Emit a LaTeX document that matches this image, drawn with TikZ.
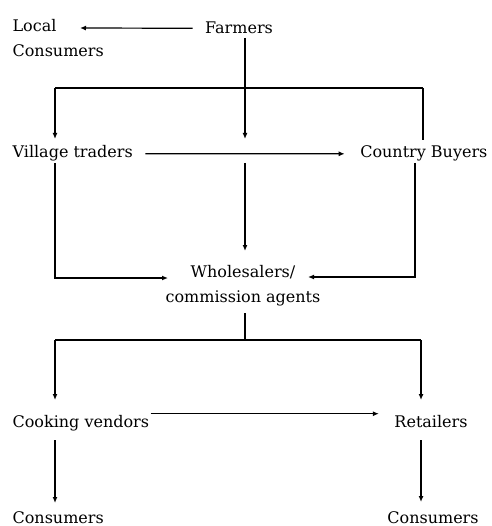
\documentclass[tikz,border=0pt]{standalone}
\usepackage{fontspec}
\setmainfont{DejaVu Serif}
\usetikzlibrary{arrows.meta}

\begin{document}
\begin{tikzpicture}[x=1pt,y=-1pt]
\tikzstyle{every path}=[line width=1.2pt]
\tikzstyle{every node}=[inner sep=0pt,font=\fontsize{16}{25}\selectfont]
\tikzstyle{flow}=[-{Latex[length=6pt,width=5pt]}]
\useasboundingbox (0,0) rectangle (491,526);

\begin{scope}
\node (local) [anchor=north west,align=left] at (12,19) {Local\\Consumers};
\node (farmers) [anchor=base] at (239,34) {Farmers};
\node (village) [anchor=base west] at (12,158) {Village traders};
\node (country) [anchor=base east] at (488,158) {Country Buyers};
\node (whole) [anchor=north,align=center] at (243,265) {Wholesalers/\\commission agents};
\node (cooking) [anchor=base west] at (12,427) {Cooking vendors};
\node (retail) [anchor=base] at (431,427) {Retailers};
\node (cons1) [anchor=base west] at (12,523) {Consumers};
\node (cons2) [anchor=base] at (433,523) {Consumers};

% junctions and free ends
\coordinate (lc) at (80,28);
\coordinate (f0) at (245,38);
\coordinate (f1) at (245,139);
\coordinate (t1) at (55,88);
\coordinate (t2) at (423,88);
\coordinate (v0) at (55,139);
\coordinate (c0) at (423,140);
\coordinate (v1) at (55,163);
\coordinate (v2) at (55,278);
\coordinate (w0) at (168,278);
\coordinate (m1) at (245,163);
\coordinate (m2) at (245,251);
\coordinate (c1) at (415,163);
\coordinate (c2) at (415,277);
\coordinate (w1) at (308,277);
\coordinate (b0) at (245,313);
\coordinate (b1) at (245,340);
\coordinate (b2) at (55,340);
\coordinate (b3) at (421,340);
\coordinate (k0) at (55,400);
\coordinate (r0) at (421,400);
\coordinate (k1) at (55,440);
\coordinate (k2) at (55,503);
\coordinate (r1) at (421,440);
\coordinate (r2) at (421,502);

\draw[flow] ([xshift=-12pt]farmers.west) -- (lc);
\draw[flow] (f0) -- (f1);
\draw (t2) -- (t1);
\draw[flow] (t1) -- (v0);
\draw (t2) -- (c0);
\draw[flow] ([xshift=12pt]village.east) -- ([xshift=-15pt]country.west);
\draw[flow] (v1) -- (v2) -- (w0);
\draw[flow] (m1) -- (m2);
\draw[flow] (c1) -- (c2) -- (w1);
\draw (b0) -- (b1);
\draw (b2) -- (b3);
\draw[flow] (b2) -- (k0);
\draw[flow] (b3) -- (r0);
\draw[flow] ([xshift=1pt,yshift=9pt]cooking.east) -- ([xshift=-15pt,yshift=9pt]cooking.east -| retail.west);
\draw[flow] (k1) -- (k2);
\draw[flow] (r1) -- (r2);
\end{scope}

\end{tikzpicture}
\end{document}
